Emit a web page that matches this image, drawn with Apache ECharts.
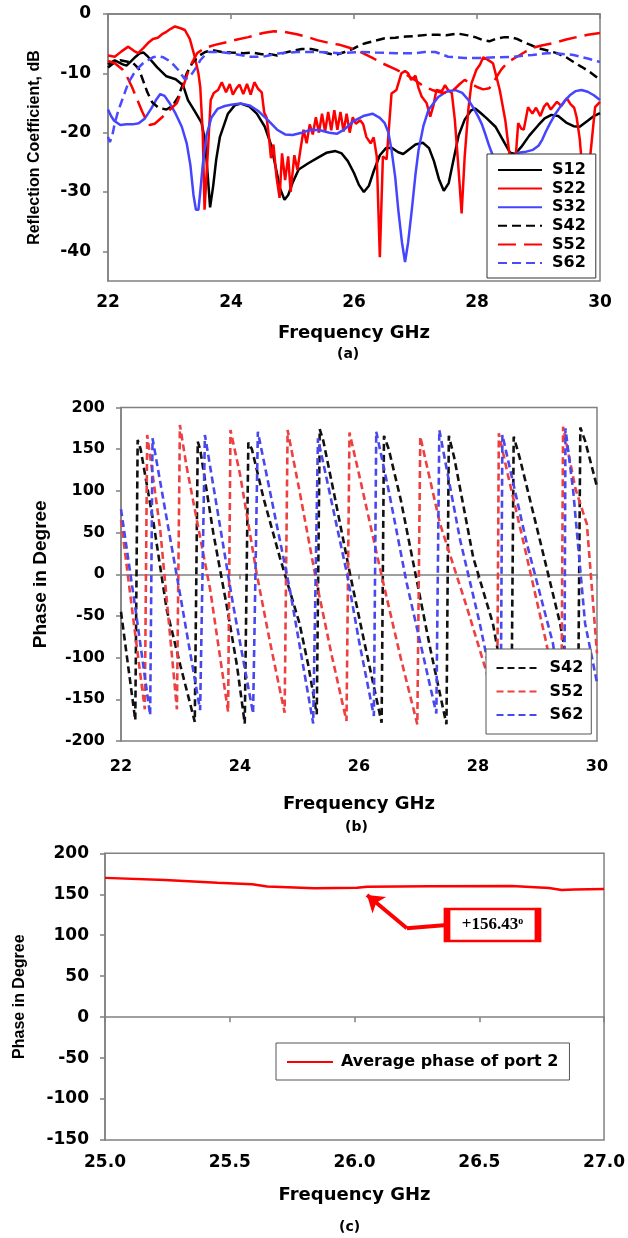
<!DOCTYPE html>
<html><head><meta charset="utf-8">
<script src="https://cdn.jsdelivr.net/npm/echarts@6/dist/echarts.min.js"></script>
<style>
html,body{margin:0;padding:0;background:#fff;width:628px;height:1238px;overflow:hidden}
.c{position:absolute;left:0;width:628px}
</style></head><body>
<div id="a" class="c" style="top:0;height:370px"></div>
<div id="b" class="c" style="top:370px;height:470px"></div>
<div id="c" class="c" style="top:840px;height:398px"></div>
<script>
// ---------- Panel (a): reflection coefficient, dB ----------
const S12 = [[22.0,-8.5],[22.11,-7.8],[22.24,-8.5],[22.3,-8.7],[22.36,-8.1],[22.45,-7.2],[22.52,-6.6],[22.58,-6.5],[22.65,-7.2],[22.8,-9.0],[22.95,-10.5],[23.1,-11.0],[23.22,-12.0],[23.3,-14.5],[23.4,-16.2],[23.52,-18.3],[23.58,-21.5],[23.62,-27],[23.66,-32.6],[23.71,-29],[23.76,-24.5],[23.82,-20.7],[23.95,-16.8],[24.06,-15.4],[24.16,-15.1],[24.3,-15.6],[24.42,-16.8],[24.55,-19],[24.65,-22],[24.73,-26],[24.8,-29.5],[24.87,-31.3],[24.93,-30.5],[25.0,-28.5],[25.1,-26.2],[25.25,-25.2],[25.4,-24.3],[25.55,-23.4],[25.7,-23.1],[25.8,-23.5],[25.9,-24.8],[26.0,-26.8],[26.08,-28.8],[26.16,-30],[26.24,-29],[26.32,-26.5],[26.42,-23.8],[26.52,-22.6],[26.62,-22.6],[26.72,-23.3],[26.8,-23.6],[26.9,-22.8],[27.0,-22.0],[27.12,-21.7],[27.22,-22.6],[27.3,-24.8],[27.38,-27.8],[27.46,-29.8],[27.54,-28.5],[27.62,-24.5],[27.7,-20.5],[27.8,-17.8],[27.9,-16.3],[27.97,-15.9],[28.05,-16.6],[28.15,-17.5],[28.3,-19],[28.42,-21.2],[28.54,-23.4],[28.62,-23.6],[28.72,-22.4],[28.85,-20.5],[29.0,-18.7],[29.1,-17.6],[29.21,-17.0],[29.32,-17.2],[29.45,-18.3],[29.57,-18.9],[29.67,-19.0],[29.8,-18.0],[29.9,-17.2],[30.0,-16.7]];
const S22 = [[22.0,-7.0],[22.11,-7.2],[22.22,-6.3],[22.33,-5.5],[22.42,-6.2],[22.49,-6.6],[22.57,-5.8],[22.65,-4.9],[22.73,-4.2],[22.81,-4.0],[22.88,-3.4],[22.95,-3.0],[23.02,-2.5],[23.09,-2.1],[23.18,-2.4],[23.25,-2.7],[23.33,-4.2],[23.41,-7.2],[23.47,-10],[23.5,-12.3],[23.54,-20],[23.57,-33],[23.6,-33],[23.63,-22],[23.67,-14.5],[23.72,-13.3],[23.79,-12.8],[23.85,-11.5],[23.92,-13.2],[23.98,-11.8],[24.03,-13.6],[24.09,-12.5],[24.14,-11.9],[24.2,-13.5],[24.26,-11.8],[24.32,-13.6],[24.38,-11.5],[24.44,-12.6],[24.5,-13.2],[24.54,-16.6],[24.58,-17.5],[24.62,-21],[24.65,-24.3],[24.69,-22],[24.74,-27.5],[24.79,-31],[24.83,-23.5],[24.88,-28],[24.93,-24],[24.97,-30],[25.03,-23.8],[25.08,-26.3],[25.13,-22.8],[25.18,-19.5],[25.23,-21.8],[25.28,-18.6],[25.33,-20.3],[25.38,-17.4],[25.43,-20],[25.48,-16.8],[25.53,-19.8],[25.58,-16.5],[25.63,-19.6],[25.68,-16.2],[25.73,-19.5],[25.78,-16.5],[25.83,-19.8],[25.88,-16.8],[25.93,-20],[25.98,-17.4],[26.03,-18.5],[26.1,-17.9],[26.15,-18.6],[26.2,-20.7],[26.27,-21.8],[26.32,-20.8],[26.37,-24],[26.42,-41],[26.47,-24],[26.53,-24.5],[26.61,-13.4],[26.69,-12.8],[26.77,-10],[26.83,-9.6],[26.88,-10],[26.93,-11.1],[27.0,-10.4],[27.05,-12.5],[27.1,-13.9],[27.18,-15.0],[27.24,-17.3],[27.29,-15.5],[27.34,-12.8],[27.43,-13.0],[27.48,-12.0],[27.53,-12.8],[27.59,-13.3],[27.64,-17.9],[27.69,-24.7],[27.75,-33.6],[27.8,-24],[27.86,-16],[27.91,-11.7],[27.99,-9.4],[28.05,-8.5],[28.1,-7.3],[28.16,-7.6],[28.26,-8.3],[28.37,-12.8],[28.46,-17.9],[28.52,-23],[28.58,-27],[28.63,-24],[28.67,-18.4],[28.72,-19.3],[28.76,-19.5],[28.83,-15.7],[28.9,-16.8],[28.96,-15.8],[29.03,-17.2],[29.09,-15.6],[29.14,-15.0],[29.2,-16.1],[29.3,-14.8],[29.37,-15.5],[29.46,-14.2],[29.52,-15.2],[29.58,-15.8],[29.62,-17.4],[29.67,-21],[29.72,-27],[29.8,-28],[29.86,-22],[29.92,-15.7],[30.0,-14.8]];
const S32 = [[22.0,-16.1],[22.05,-17.2],[22.1,-18.0],[22.2,-18.7],[22.3,-18.6],[22.4,-18.6],[22.5,-18.4],[22.6,-17.6],[22.7,-16.0],[22.78,-14.5],[22.85,-13.5],[22.92,-13.8],[23.0,-15.0],[23.1,-16.8],[23.2,-19.0],[23.28,-21.8],[23.34,-25.5],[23.39,-30.5],[23.43,-33],[23.47,-33],[23.5,-30],[23.54,-25.5],[23.6,-20.5],[23.68,-17.5],[23.78,-16.0],[23.9,-15.5],[24.0,-15.3],[24.15,-15.1],[24.3,-15.4],[24.45,-16.4],[24.6,-17.9],[24.75,-19.5],[24.88,-20.3],[25.0,-20.4],[25.15,-20.0],[25.3,-19.5],[25.45,-19.6],[25.6,-20.0],[25.72,-20.2],[25.85,-19.4],[26.0,-18.0],[26.15,-17.2],[26.3,-16.8],[26.42,-17.5],[26.5,-18.4],[26.56,-20],[26.61,-22.9],[26.67,-27.5],[26.72,-33],[26.78,-38.5],[26.83,-41.8],[26.88,-38.5],[26.94,-33],[27.0,-27],[27.05,-22.9],[27.13,-18.8],[27.21,-16.2],[27.37,-14.0],[27.5,-13.1],[27.64,-12.8],[27.76,-13.3],[27.86,-14.5],[27.94,-15.8],[28.02,-17.3],[28.08,-18.6],[28.13,-20.1],[28.2,-22.3],[28.3,-25],[28.45,-26.5],[28.58,-25],[28.67,-23.4],[28.8,-23.2],[28.91,-22.9],[29.0,-22.2],[29.06,-21.2],[29.12,-19.8],[29.19,-18.4],[29.27,-16.9],[29.35,-15.7],[29.43,-14.6],[29.51,-13.7],[29.6,-13.0],[29.7,-12.8],[29.8,-13.1],[29.9,-13.7],[30.0,-14.5]];
const S42 = [[22.0,-9.0],[22.1,-8.2],[22.2,-7.8],[22.3,-8.0],[22.4,-8.2],[22.5,-9.2],[22.57,-11.2],[22.64,-13.2],[22.72,-14.9],[22.82,-15.8],[22.95,-16.1],[23.05,-15.5],[23.14,-14.0],[23.2,-12.3],[23.28,-10.0],[23.37,-8.3],[23.46,-7.2],[23.58,-6.4],[23.7,-6.1],[23.85,-6.4],[24.0,-6.5],[24.2,-6.6],[24.35,-6.5],[24.5,-6.8],[24.6,-6.7],[24.75,-7.0],[24.85,-6.6],[25.0,-6.2],[25.15,-5.9],[25.3,-5.9],[25.45,-6.2],[25.56,-6.6],[25.7,-6.9],[25.85,-6.4],[26.0,-5.8],[26.1,-5.2],[26.2,-4.9],[26.34,-4.5],[26.5,-4.1],[26.67,-4.0],[26.85,-3.8],[27.0,-3.7],[27.2,-3.5],[27.37,-3.5],[27.5,-3.6],[27.69,-3.3],[27.85,-3.6],[27.97,-3.9],[28.1,-4.4],[28.2,-4.6],[28.3,-4.2],[28.45,-3.9],[28.55,-3.9],[28.65,-4.2],[28.75,-4.7],[28.87,-5.2],[28.97,-5.7],[29.13,-6.1],[29.3,-6.6],[29.45,-7.3],[29.57,-8.1],[29.7,-8.9],[29.84,-9.8],[30.0,-11.1]];
const S52 = [[22.0,-7.9],[22.11,-8.3],[22.24,-9.4],[22.32,-10.8],[22.39,-12.3],[22.49,-14.8],[22.55,-16.3],[22.6,-17.4],[22.68,-18.7],[22.76,-18.5],[22.88,-17.4],[23.0,-16.2],[23.12,-15.0],[23.22,-12.3],[23.33,-8.9],[23.45,-6.6],[23.58,-5.7],[23.74,-5.2],[23.95,-4.7],[24.1,-4.3],[24.28,-3.9],[24.52,-3.2],[24.7,-2.9],[24.85,-3.0],[25.07,-3.4],[25.25,-3.9],[25.4,-4.4],[25.6,-4.9],[25.77,-5.2],[25.9,-5.6],[26.05,-6.1],[26.3,-7.4],[26.46,-8.3],[26.67,-9.3],[26.83,-10.1],[27.0,-11.2],[27.15,-12.3],[27.27,-12.8],[27.43,-13.3],[27.55,-13.2],[27.64,-12.6],[27.72,-11.8],[27.8,-11.1],[27.88,-11.6],[28.0,-12.3],[28.1,-12.7],[28.2,-12.5],[28.27,-11.5],[28.33,-10.4],[28.4,-9.3],[28.46,-8.6],[28.55,-7.8],[28.65,-7.2],[28.78,-6.4],[28.91,-5.7],[29.05,-5.3],[29.24,-4.9],[29.45,-4.3],[29.62,-3.9],[29.8,-3.5],[30.0,-3.2]];
const S62 = [[22.0,-20.7],[22.03,-21.6],[22.07,-20.5],[22.11,-18.4],[22.17,-16.2],[22.23,-14.5],[22.33,-11.6],[22.41,-10.2],[22.49,-9.1],[22.57,-8.3],[22.65,-7.8],[22.73,-7.3],[22.81,-7.1],[22.9,-7.3],[22.98,-7.8],[23.06,-8.5],[23.14,-9.4],[23.2,-10.3],[23.25,-11.0],[23.31,-10.7],[23.37,-10.0],[23.44,-8.9],[23.5,-7.8],[23.57,-7.0],[23.63,-6.4],[23.79,-6.4],[23.98,-6.6],[24.15,-6.9],[24.3,-7.2],[24.52,-7.2],[24.65,-6.9],[24.8,-6.6],[25.07,-6.4],[25.4,-6.4],[25.6,-6.5],[25.77,-6.6],[26.1,-6.4],[26.35,-6.5],[26.7,-6.6],[26.99,-6.6],[27.15,-6.4],[27.32,-6.4],[27.43,-6.8],[27.53,-7.2],[27.8,-7.4],[28.05,-7.4],[28.3,-7.3],[28.6,-7.2],[28.9,-6.9],[29.14,-6.6],[29.35,-6.7],[29.57,-6.9],[29.8,-7.5],[30.0,-8.1]];
const yTicksA = [-40,-30,-20,-10,0];

// ---------- Panel (b): phase, degree ----------
const P42 = [[22.0,-45],[22.12,-110],[22.24,-175],[22.28,161],[22.33,150],[22.55,60],[22.77,-43],[23.0,-110],[23.24,-177],[23.29,159],[23.33,150],[23.55,50],[23.78,-39],[23.95,-110],[24.08,-179],[24.14,158],[24.2,150],[24.4,90],[24.67,20],[25.0,-59],[25.15,-110],[25.29,-168],[25.34,174],[25.4,160],[25.6,90],[25.85,0],[26.1,-85],[26.38,-178],[26.42,166],[26.5,150],[26.7,90],[26.95,0],[27.2,-90],[27.47,-180],[27.51,166],[27.6,140],[27.92,20],[28.25,-59],[28.56,-180],[28.6,165],[28.7,140],[29.04,41],[29.38,-59],[29.68,-180],[29.72,176],[29.8,160],[30.0,105]];
const P52 = [[22.0,65],[22.2,-50],[22.4,-162],[22.44,167],[22.66,53],[22.94,-162],[22.99,179],[23.1,130],[23.5,-19],[23.8,-165],[23.84,173],[24.0,120],[24.28,1],[24.5,-80],[24.75,-166],[24.8,173],[25.0,100],[25.29,-11],[25.55,-100],[25.79,-176],[25.84,170],[26.0,120],[26.41,-11],[26.7,-100],[26.98,-180],[27.03,165],[27.36,61],[27.81,-39],[28.15,-119],[28.32,-180],[28.35,169],[28.5,120],[28.82,21],[29.15,-83],[29.4,-180],[29.43,177],[29.64,102],[29.83,60],[30.0,-95]];
const P62 = [[22.0,78],[22.25,-45],[22.49,-169],[22.53,163],[23.0,-27],[23.33,-163],[23.41,167],[23.88,-35],[24.22,-167],[24.3,171],[24.84,-19],[25.23,-179],[25.31,163],[25.5,100],[25.8,0],[26.0,-80],[26.25,-170],[26.29,171],[26.5,100],[26.8,-10],[27.3,-167],[27.35,173],[27.7,41],[28.03,-59],[28.38,-180],[28.41,167],[28.82,37],[29.26,-83],[29.45,-180],[29.47,175],[29.6,100],[29.8,-59],[30.0,-130]];

// ---------- Panel (c): average phase of port 2 ----------
const AVG2 = [[25.0,170],[25.24,167.4],[25.45,164],[25.59,162.2],[25.65,159.6],[25.84,157.3],[26.01,158],[26.05,159.3],[26.3,159.7],[26.63,160],[26.78,157.7],[26.83,155.2],[26.88,155.9],[27.0,156.4]];
const ARROW_TIP = [26.05,149];
const ARROW_ELBOW = [26.21,108.5];
const ARROW_START = [26.37,112.5];
const NOTE_POS = [26.553,112.5];
const NOTE_TEXT = '+156.43';

const FONT = 'DejaVu Sans';
const AX = '#808080';
const tickFont = (s) => ({fontFamily:FONT, fontWeight:'bold', fontSize:s, color:'#000'});
const hideSym = {color:'rgba(0,0,0,0)', borderWidth:0, opacity:0};
function axis(o){
  return Object.assign({
    type:'value', nameLocation:'middle',
    axisLine:{show:true, lineStyle:{color:AX, width:1.5}},
    axisTick:{show:true, length:5, lineStyle:{color:AX, width:1.5}},
    splitLine:{show:false}
  }, o);
}
function line(name, data, color, dash, width){
  return {name, type:'line', data, symbol:'none', showSymbol:false, smooth:false,
    itemStyle:{color}, lineStyle:{color, width:width||2.5, type:dash||'solid'}, z: 2};
}

// Panel a
const ca = echarts.init(document.getElementById('a'));
ca.setOption({
  animation:false,
  title:{text:'(a)', left:337, top:347, padding:0, textStyle:tickFont(14)},
  grid:{left:108, top:14, width:492, height:267, show:true, borderColor:AX, borderWidth:1.5},
  xAxis:axis({min:22, max:30, interval:2, name:'Frequency GHz', nameGap:43,
    nameTextStyle:tickFont(18), axisLabel:Object.assign({margin:13}, tickFont(17))}),
  yAxis:axis({min:-45, max:0, name:'Reflection Coefficient, dB', nameGap:65,
    nameTextStyle:{fontFamily:'Liberation Sans', fontWeight:'bold', fontSize:16, color:'#000'},
    axisTick:{show:true, length:5, customValues:yTicksA, lineStyle:{color:AX, width:1.5}},
    axisLabel:Object.assign({margin:17, customValues:yTicksA}, tickFont(17))}),
  legend:{orient:'vertical', left:487, top:154, padding:[8,10,7,10], itemWidth:44, itemHeight:14, itemGap:2.6,
    backgroundColor:'#fff', borderColor:'#333', borderWidth:1, itemStyle:hideSym,
    textStyle:Object.assign({padding:[0,0,0,5]}, tickFont(16)),
    data:['S12','S22','S32','S42','S52','S62']},
  series:[
    line('S12', S12, '#000000'),
    line('S22', S22, '#ff0000'),
    line('S32', S32, '#4545ff'),
    line('S42', S42, '#000000', [9,5]),
    line('S52', S52, '#ff0000', [18,8]),
    line('S62', S62, '#4a4aff', [9,5])
  ]
});

// Panel b
const cb = echarts.init(document.getElementById('b'));
cb.setOption({
  animation:false,
  title:{text:'(b)', left:345, top:450, padding:0, textStyle:tickFont(14)},
  grid:{left:121, top:37.5, width:476, height:333.5, show:true, borderColor:AX, borderWidth:1.5},
  xAxis:axis({min:22, max:30, interval:2, name:'Frequency GHz', nameGap:54,
    nameTextStyle:tickFont(18), axisLabel:Object.assign({margin:18}, tickFont(16))}),
  yAxis:axis({min:-200, max:200, interval:50, name:'Phase in Degree', nameGap:71,
    nameTextStyle:{fontFamily:'Liberation Sans', fontWeight:'bold', fontSize:19, color:'#000'},
    axisLabel:Object.assign({margin:16}, tickFont(16))}),
  legend:{orient:'vertical', left:486, top:279, padding:[11,8,11,9.5], itemWidth:40, itemHeight:14, itemGap:7.5,
    backgroundColor:'#fff', borderColor:'#555', borderWidth:1, itemStyle:hideSym,
    textStyle:Object.assign({padding:[0,0,0,8]}, tickFont(16)),
    data:['S42','S52','S62']},
  series:[
    line('S42', P42, '#111111', [7,4], 2.6),
    line('S52', P52, '#ee4040', [7,4], 2.6),
    line('S62', P62, '#4848ee', [7,4], 2.6)
  ]
});

// Panel c
const cc = echarts.init(document.getElementById('c'));
const avg = line('Average phase of port 2', AVG2, '#ff0000', 'solid', 2.5);
avg.markLine = {silent:true, symbol:['none','arrow'], symbolSize:16, label:{show:false},
  lineStyle:{color:'#ff0000', width:4, type:'solid'},
  data:[
    [{coord:ARROW_ELBOW},{coord:ARROW_TIP}],
    [{coord:ARROW_START, symbol:'none'},{coord:ARROW_ELBOW, symbol:'none'}]
  ]};
avg.markPoint = {silent:true, symbol:'rect', symbolSize:[91,32],
  itemStyle:{color:'#fff', borderColor:'#ff0000', borderWidth:4},
  label:{show:true, position:'inside', formatter:'{a|' + NOTE_TEXT + '}{b|o}',
    rich:{a:{fontFamily:'Liberation Serif', fontWeight:'bold', fontSize:17, color:'#000'},
          b:{fontFamily:'Liberation Serif', fontWeight:'bold', fontSize:10, color:'#000', verticalAlign:'top'}}},
  data:[{coord:NOTE_POS}]};
cc.setOption({
  animation:false,
  title:{text:'(c)', left:339, top:380, padding:0, textStyle:tickFont(14)},
  grid:{left:105, top:13.3, width:502, height:286.7, show:true, borderColor:AX, borderWidth:1.5},
  xAxis:axis({min:25, max:27, interval:0.5, name:'Frequency GHz', nameGap:46,
    nameTextStyle:tickFont(18), axisLabel:Object.assign({margin:14, formatter:(v)=>v.toFixed(1)}, tickFont(17))}),
  yAxis:axis({min:-150, max:200, interval:50, name:'Phase in Degree', nameGap:77,
    nameTextStyle:{fontFamily:'Liberation Sans', fontWeight:'bold', fontSize:16, color:'#000'},
    axisLabel:Object.assign({margin:16}, tickFont(17))}),
  legend:{orient:'horizontal', left:276, top:203, padding:[11,11,10,10], itemWidth:46, itemHeight:14,
    backgroundColor:'#fff', borderColor:'#555', borderWidth:1, itemStyle:hideSym,
    textStyle:Object.assign({padding:[0,0,0,3]}, tickFont(16)),
    data:['Average phase of port 2']},
  series:[avg]
});
</script>
</body></html>
